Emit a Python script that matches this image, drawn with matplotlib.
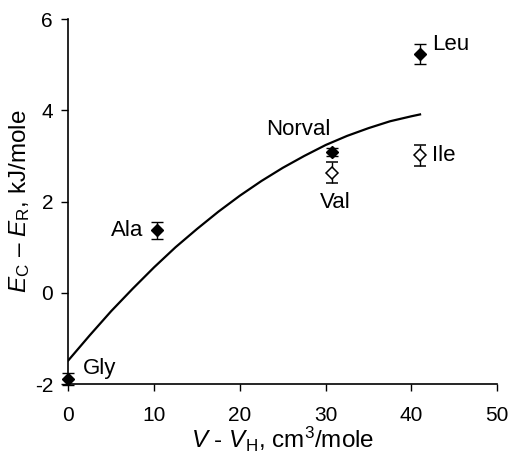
import numpy as np
import matplotlib
matplotlib.use("Agg")
import matplotlib.pyplot as plt

# hydrophobic residues: volume increment vs energy difference
FILLED_NAMES = ["Gly", "Ala", "Norval", "Leu"]
FILLED_X = [0.0, 10.3, 30.7, 41.0]
FILLED_Y = [-1.89, 1.37, 3.09, 5.24]
FILLED_ERR = [0.14, 0.19, 0.09, 0.22]

OPEN_NAMES = ["Val", "Ile"]
OPEN_X = [30.7, 41.0]
OPEN_Y = [2.63, 3.02]
OPEN_ERR = [0.23, 0.23]

# fitted curve
CURVE_X = [0, 2.5, 5, 7.5, 10, 12.5, 15, 17.5, 20, 22.5, 25,
           27.5, 30, 32.5, 35, 37.5, 40, 41]
CURVE_Y = [-1.48, -0.93, -0.40, 0.09, 0.56, 1.00, 1.40, 1.78, 2.13, 2.45, 2.74,
           3.00, 3.24, 3.44, 3.61, 3.76, 3.87, 3.91]

LABEL_POS = {
    "Gly": (1.7, -1.65, "left"),
    "Ala": (8.7, 1.37, "right"),
    "Norval": (26.8, 3.58, "center"),
    "Leu": (42.4, 5.45, "left"),
    "Val": (31.1, 1.97, "center"),
    "Ile": (42.4, 3.02, "left"),
}

plt.rcParams["font.family"] = ["Liberation Sans", "DejaVu Sans"]
plt.rcParams["mathtext.fontset"] = "custom"
plt.rcParams["mathtext.rm"] = "Liberation Sans"
plt.rcParams["mathtext.it"] = "Liberation Sans:italic"
plt.rcParams["axes.unicode_minus"] = False

fig = plt.figure(figsize=(5.1, 4.54), dpi=100)
ax = fig.add_axes([0.134, 0.154, 0.841, 0.804])

ax.plot(CURVE_X, CURVE_Y, color="black", lw=1.6, zorder=2)

ax.errorbar(FILLED_X, FILLED_Y, yerr=FILLED_ERR, fmt="D", color="black",
            mfc="black", mec="black", ms=6.5, ecolor="black", elinewidth=1,
            capsize=4, capthick=1, zorder=3, clip_on=False)
ax.errorbar(OPEN_X, OPEN_Y, yerr=OPEN_ERR, fmt="D", color="black",
            mfc="white", mec="black", ms=6.5, mew=1.1, ecolor="black",
            elinewidth=1, capsize=4, capthick=1, zorder=3, clip_on=False)

for name, (tx, ty, ha) in LABEL_POS.items():
    ax.text(tx, ty, name, ha=ha, va="center", fontsize=16)

ax.set_xlim(0, 50)
ax.set_ylim(-2, 6)
ax.set_xticks(np.arange(0, 51, 10))
ax.set_yticks(np.arange(-2, 7, 2))
ax.tick_params(direction="out", length=5, width=1, labelsize=15)
ax.tick_params(axis="x", pad=11)
ax.tick_params(axis="y", pad=6)
ax.spines["top"].set_visible(False)
ax.spines["right"].set_visible(False)
for s in ("left", "bottom"):
    ax.spines[s].set_linewidth(1.2)

ax.set_xlabel(r"$V$ - $V$$_{\mathrm{H}}$, cm$^{3}$/mole", fontsize=17.5, labelpad=0)
ax.set_ylabel(r"$E$$_{\mathrm{C}}$ – $E$$_{\mathrm{R}}$, kJ/mole", fontsize=17.5, labelpad=2)

fig.savefig("out.png", dpi=100)
